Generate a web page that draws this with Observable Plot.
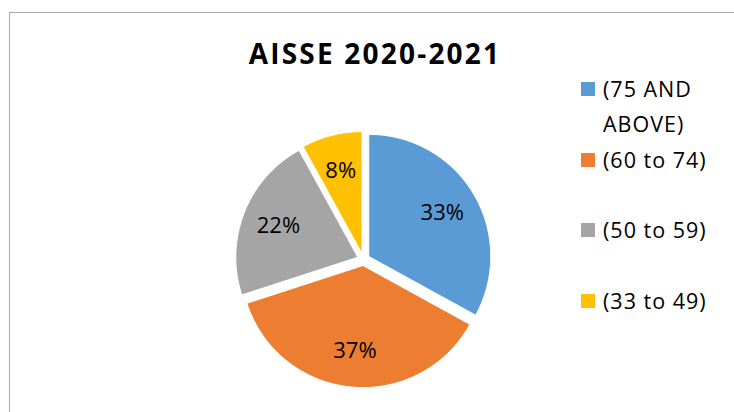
<!DOCTYPE html>
<html>
<head>
<meta charset="utf-8">
<script src="https://cdn.jsdelivr.net/npm/d3@7"></script>
<script src="https://cdn.jsdelivr.net/npm/@observablehq/plot@0.6"></script>
<style>
  html, body { margin: 0; padding: 0; background: #fff; }
  #wrap { position: relative; width: 734px; height: 412px; overflow: hidden; font-family: "Open Sans", sans-serif; }
  #frame { position: absolute; left: 9px; top: 12px; right: -5px; bottom: -5px; border-left: 1.5px solid #a9a9a9; border-top: 1.5px solid #a9a9a9; }
  #title { position: absolute; left: 0; width: 750px; top: 34px; text-align: center; font-weight: 700; font-size: 28px; letter-spacing: 2.2px; color: #000; line-height: 1.362; white-space: nowrap; }
  .row { position: absolute; left: 581px; width: 150px; }
  .sw { position: absolute; left: 0; top: 11px; width: 14px; height: 14px; }
  .lt { position: absolute; left: 22px; top: 0; width: 122px; font-size: 21.5px; line-height: 35px; letter-spacing: 1px; color: #000; }
  #chart { position: absolute; left: 0; top: 0; }
</style>
</head>
<body>
<div id="wrap">
  <div id="frame"></div>
  <div id="chart"></div>
  <div id="title"></div>
  <div id="legend"></div>
</div>
<script>
// ---- data ----
const title = "AISSE 2020-2021";
const categories = ["(75 AND ABOVE)", "(60 to 74)", "(50 to 59)", "(33 to 49)"];
const shares = [33, 37, 22, 8];
const colors = ["#5B9BD5", "#ED7D31", "#A5A5A5", "#FFC000"];

// ---- layout constants ----
const W = 734, H = 412;
const cx = 363, cy = 259, R = 122;   // pie centre and radius in px
const explode = 0.05;                // fraction of radius
const labelR = 0.7;                  // label distance (fraction of radius)

// build slice polygons in unit-radius coordinates (angle clockwise from top)
const total = d3.sum(shares);
const pts = [];
const labels = [];
let acc = 0;
categories.forEach((cat, i) => {
  const a0 = acc / total * 2 * Math.PI;
  acc += shares[i];
  const a1 = acc / total * 2 * Math.PI;
  const am = (a0 + a1) / 2;
  const ox = explode * Math.sin(am), oy = explode * Math.cos(am);
  pts.push({cat, x: ox, y: oy});
  const n = Math.max(2, Math.ceil((a1 - a0) / (Math.PI / 180)));
  for (let k = 0; k <= n; k++) {
    const a = a0 + (a1 - a0) * k / n;
    pts.push({cat, x: ox + Math.sin(a), y: oy + Math.cos(a)});
  }
  pts.push({cat, x: ox, y: oy});
  labels.push({cat, x: ox + labelR * Math.sin(am), y: oy + labelR * Math.cos(am), text: shares[i] + "%"});
});

const chart = Plot.plot({
  width: W, height: H,
  margin: 0,
  x: {domain: [-cx / R, (W - cx) / R], axis: null},
  y: {domain: [-(H - cy) / R, cy / R], axis: null},
  color: {domain: categories, range: colors},
  style: {background: "transparent", overflow: "visible"},
  marks: [
    Plot.line(pts, {x: "x", y: "y", z: "cat", fill: "cat", stroke: "white", strokeWidth: 1, curve: "linear"}),
    Plot.text(labels, {x: "x", y: "y", text: "text", fontSize: 22, fill: "#000", fontFamily: "Open Sans", textAnchor: "middle"})
  ]
});
document.getElementById("chart").appendChild(chart);

document.getElementById("title").textContent = title;

const rowTops = [71, 142, 212, 283];
const legend = document.getElementById("legend");
categories.forEach((cat, i) => {
  const row = document.createElement("div");
  row.className = "row";
  row.style.top = rowTops[i] + "px";
  const sw = document.createElement("div");
  sw.className = "sw";
  sw.style.background = colors[i];
  const lt = document.createElement("div");
  lt.className = "lt";
  lt.textContent = cat;
  row.appendChild(sw);
  row.appendChild(lt);
  legend.appendChild(row);
});
</script>
</body>
</html>
